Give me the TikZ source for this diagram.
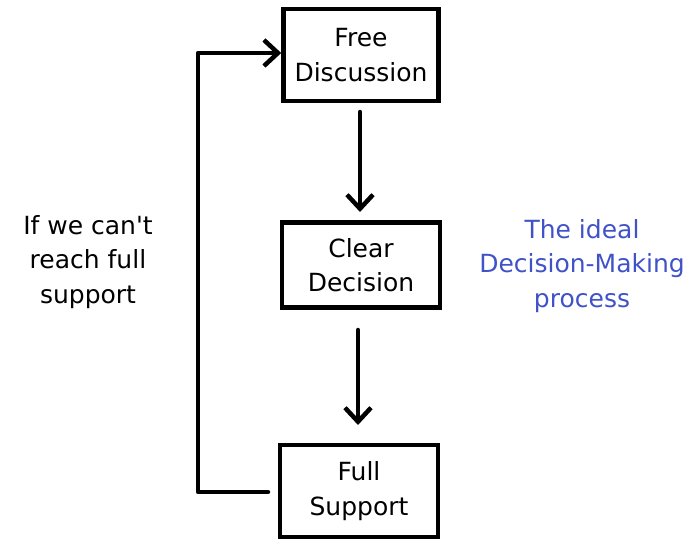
\documentclass[tikz,border=0pt]{standalone}
\usepackage{fontspec}
\setmainfont{DejaVu Sans}
\usetikzlibrary{arrows.meta}
\definecolor{noteblue}{RGB}{64,82,200}
\tikzset{
  x=1pt,y=-1pt,
  box/.style={draw=black,line width=4.5pt,fill=white,inner sep=0pt},
  lbl/.style={font=\fontsize{25}{34.5}\selectfont,align=center},
  conn/.style={line width=4.5pt,line cap=round,line join=round,-{Straight Barb[length=14pt,width=26pt,line width=4.5pt]}},
}
\begin{document}
\begin{tikzpicture}
\useasboundingbox (0,0) rectangle (697,546);
\node[box,minimum width=155pt,minimum height=92pt] (free) at (361,55) {};
\node[lbl] at (free.center) {Free\\Discussion};
\node[box,minimum width=158pt,minimum height=85pt] (clear) at (361,265) {};
\node[lbl] at (clear.center) {Clear\\Decision};
\node[box,minimum width=158pt,minimum height=92pt] (full) at (359,491) {};
\node[lbl] at (full.center) {Full\\Support};
\coordinate (fb) at (360,112);
\coordinate (ct) at (360,212);
\coordinate (cb) at (358,330);
\coordinate (ft) at (358,425);
\draw[conn] (fb) -- (ct);
\draw[conn] (cb) -- (ft);
\coordinate (ls) at (268,492);
\draw[conn] (ls) -- (198,492) -- (198,53) -- (free.west|-0,53);
\node[lbl] (cond) at (88,262) {If we can\textquotesingle t\\reach full\\support};
\node[lbl,text=noteblue] (note) at (582,266) {The ideal\\Decision-Making\\process};
\end{tikzpicture}
\end{document}
